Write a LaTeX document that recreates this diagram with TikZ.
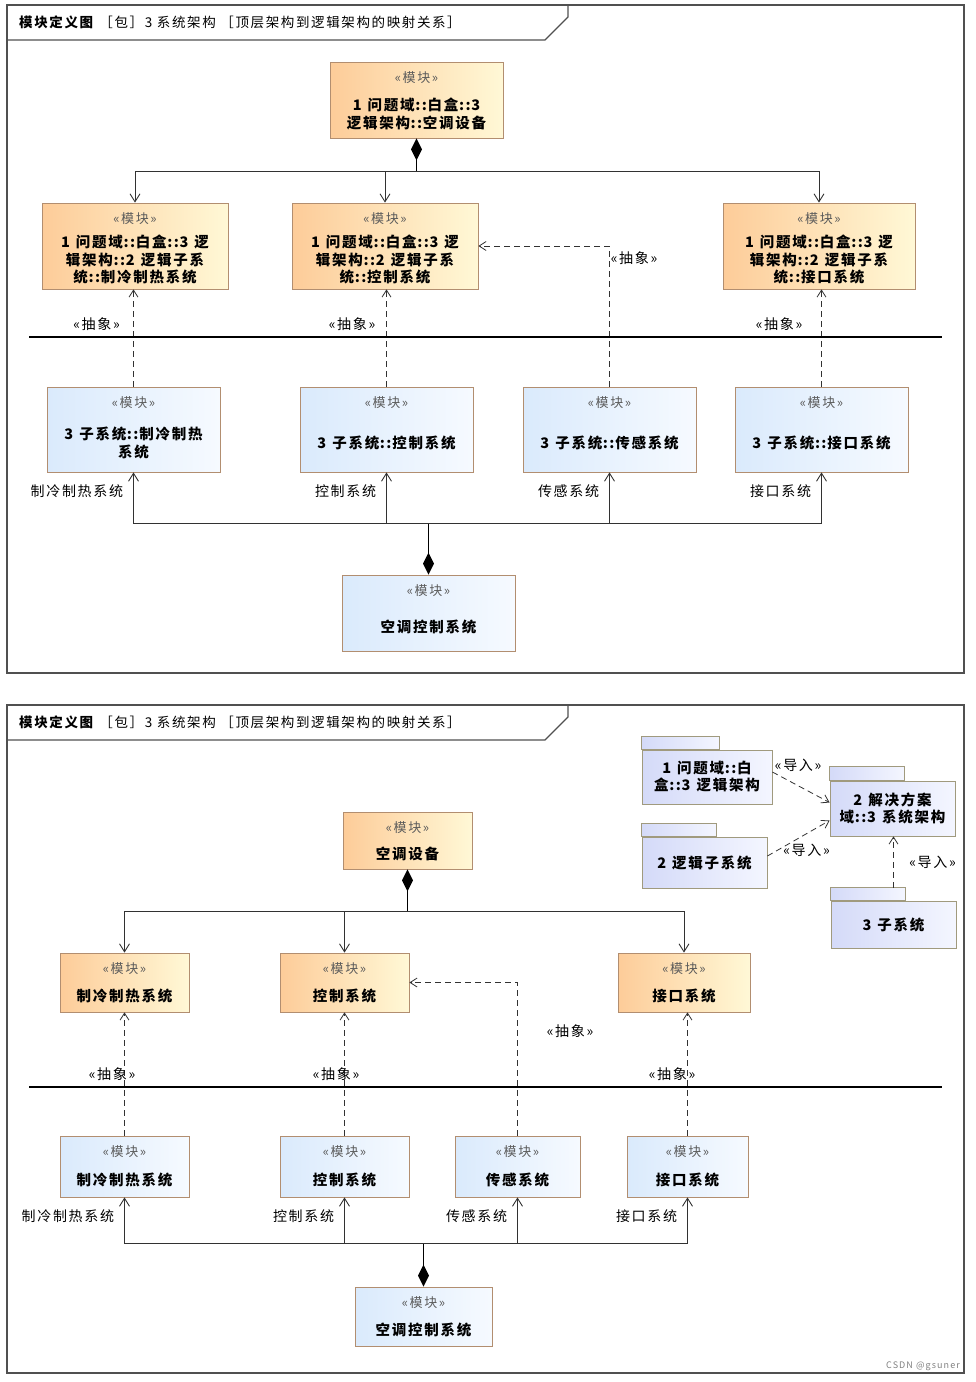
\documentclass[tikz,border=0pt]{standalone}
\usepackage{fontspec}
\setmainfont[LetterSpace=12]{Noto Sans CJK SC}
\usetikzlibrary{arrows.meta}
\definecolor{blkorange}{RGB}{253,204,153}
\definecolor{blkcream}{RGB}{255,248,214}
\definecolor{blkblue}{RGB}{218,234,252}
\definecolor{blkwhite}{RGB}{246,250,255}
\definecolor{blkborder}{RGB}{178,142,112}
\definecolor{pkgblue}{RGB}{212,218,248}
\definecolor{pkgwhite}{RGB}{244,246,255}
\definecolor{pkgborder}{RGB}{160,154,126}
\definecolor{framegrey}{RGB}{80,80,80}
\definecolor{stereogrey}{RGB}{90,90,90}
\definecolor{linegrey}{RGB}{50,50,50}
\newcommand\namefont{\fontsize{14.5}{17}\selectfont\bfseries}
\newcommand\stfont{\fontsize{13}{15}\selectfont}
\newcommand\tagfont{\fontsize{14}{16}\selectfont}
\newcommand\hdfont{\fontsize{13.5}{16}\selectfont}
% double colon and wide gap as in the tool's font
\newcommand\dc{\makebox[13pt]{\makebox[6.5pt]{:}\makebox[6.5pt]{:}}}
\newcommand\gap{\hspace{6pt}}
% block name, set lower than the centre of the block
\newcommand\bname[1]{\raisebox{-19pt}[0pt][0pt]{\begin{tabular}{@{}c@{}}#1\end{tabular}}}

\begin{document}
\begin{tikzpicture}
[
x=1pt, y=-1pt,
stereo/.style={anchor=north, yshift=-9pt, inner sep=1pt, font=\stfont, text=stereogrey},
block/.style={draw=blkborder, line width=0.8pt, inner sep=0pt, font=\namefont,
              label={[stereo]north:«模块»}},
oblock/.style={block, left color=blkorange, right color=blkcream},
bblock/.style={block, left color=blkblue, right color=blkwhite},
pkg/.style={draw=pkgborder, line width=0.8pt, left color=pkgblue, right color=pkgwhite,
            align=center, inner sep=0pt, font=\namefont},
pkgtab/.style={draw=pkgborder, line width=0.8pt, left color=pkgblue, right color=pkgwhite},
part/.style={draw=linegrey, line width=0.9pt, -{Straight Barb[length=8pt,width=10pt]}},
comp/.style={draw=black, line width=1.6pt, -{Diamond[length=22pt,width=11pt]}},
abstr/.style={draw=linegrey, line width=0.8pt, dash pattern=on 6pt off 4pt,
              -{Straight Barb[length=7pt,width=9pt]}},
stlabel/.style={font=\tagfont, inner sep=1pt},
role/.style={font=\tagfont, inner sep=2pt, anchor=east, xshift=-8pt},
diagframe/.style={draw=framegrey, line width=1.2pt},
]
\useasboundingbox (0,0) rectangle (976,1382);

%Frames
\draw[diagframe] (7,5) rectangle (964,673);
\draw[diagframe] (7,40) -- (545,40) -- (568,17) -- (568,5);
\node[anchor=west, font=\hdfont, inner sep=0pt] (hd1) at (19,22) {\textbf{模块定义图}\ ［包］3 系统架构 ［顶层架构到逻辑架构的映射关系］};
\draw[diagframe] (7,705) rectangle (964,1373);
\draw[diagframe] (7,740) -- (545,740) -- (568,717) -- (568,705);
\node[anchor=west, font=\hdfont, inner sep=0pt] (hd2) at (19,722) {\textbf{模块定义图}\ ［包］3 系统架构 ［顶层架构到逻辑架构的映射关系］};

%Place the nodes (upper diagram)
\node[oblock, minimum width=173, minimum height=76] (kt) at (416.5,100) {\bname{1\gap 问题域\dc 白盒\dc 3\\逻辑架构\dc 空调设备}};
\node[oblock, minimum width=186, minimum height=86] (lzr) at (135,246) {\bname{1\gap 问题域\dc 白盒\dc 3\gap 逻\\辑架构\dc 2\gap 逻辑子系\\统\dc 制冷制热系统}};
\node[oblock, minimum width=186, minimum height=86] (lkz) at (385,246) {\bname{1\gap 问题域\dc 白盒\dc 3\gap 逻\\辑架构\dc 2\gap 逻辑子系\\统\dc 控制系统}};
\node[oblock, minimum width=192, minimum height=86] (ljk) at (819,246) {\bname{1\gap 问题域\dc 白盒\dc 3\gap 逻\\辑架构\dc 2\gap 逻辑子系\\统\dc 接口系统}};
\node[bblock, minimum width=173, minimum height=85] (zzr) at (133.5,429.5) {\bname{3\gap 子系统\dc 制冷制热\\系统}};
\node[bblock, minimum width=173, minimum height=85] (zkz) at (386.5,429.5) {\bname{3\gap 子系统\dc 控制系统}};
\node[bblock, minimum width=173, minimum height=85] (zcg) at (609.5,429.5) {\bname{3\gap 子系统\dc 传感系统}};
\node[bblock, minimum width=173, minimum height=85] (zjk) at (821.5,429.5) {\bname{3\gap 子系统\dc 接口系统}};
\node[bblock, minimum width=173, minimum height=76] (kzx) at (428.5,613) {\bname{空调控制系统}};
\coordinate (jA) at (416.5,171);
\coordinate (jD) at (428.5,523);

%Draw the connections (upper diagram)
\draw[comp] (jA) -- (kt.south);
\draw[part] (jA) -| (lzr.north);
\draw[part] (jA) -| (lkz.north);
\draw[part] (jA) -| (ljk.north);
\draw[abstr] (zzr.north) -- node[stlabel, pos=0.64, xshift=-37] {«抽象»} (zzr.north |- lzr.south);
\draw[abstr] (zkz.north) -- node[stlabel, pos=0.64, xshift=-34.5] {«抽象»} (zkz.north |- lkz.south);
\draw[abstr] (zjk.north) -- node[stlabel, pos=0.64, xshift=-42.5] {«抽象»} (zjk.north |- ljk.south);
\draw[abstr] (zcg.north) |- node[stlabel, pos=0.457, xshift=24.5] {«抽象»} (lkz.east);
\draw[line width=2.5pt] (29,337) -- (942,337);
\draw[comp] (jD) -- (kzx.north);
\draw[part] (jD) -| node[role, pos=0.81] {制冷制热系统} (zzr.south);
\draw[part] (jD) -| node[role, pos=0.81] {控制系统} (zkz.south);
\draw[part] (jD) -| node[role, pos=0.81] {传感系统} (zcg.south);
\draw[part] (jD) -| node[role, pos=0.81] {接口系统} (zjk.south);

%Place the nodes (lower diagram)
\node[pkg, minimum width=130, minimum height=54] (pwt) at (707,777) {1\gap 问题域\dc 白\\盒\dc 3\gap 逻辑架构};
\draw[pkgtab] (pwt.north west) rectangle ++(78,-13);
\node[pkg, minimum width=125, minimum height=55] (pjf) at (892.5,808.5) {2\gap 解决方案\\域\dc 3\gap 系统架构};
\draw[pkgtab] (pjf.north west) rectangle ++(75,-14);
\node[pkg, minimum width=125, minimum height=51] (plz) at (704.5,862.5) {2\gap 逻辑子系统};
\draw[pkgtab] (plz.north west) rectangle ++(75,-13);
\node[pkg, minimum width=125, minimum height=47] (pzx) at (893.5,924.5) {3\gap 子系统};
\draw[pkgtab] (pzx.north west) rectangle ++(75,-13);

\node[oblock, minimum width=129, minimum height=57] (kt2) at (407.5,840.5) {\bname{空调设备}};
\node[oblock, minimum width=129, minimum height=59] (lzr2) at (124.5,982.5) {\bname{制冷制热系统}};
\node[oblock, minimum width=129, minimum height=59] (lkz2) at (344.5,982.5) {\bname{控制系统}};
\node[oblock, minimum width=132, minimum height=59] (ljk2) at (684,982.5) {\bname{接口系统}};
\node[bblock, minimum width=129, minimum height=61] (zzr2) at (124.5,1166.5) {\bname{制冷制热系统}};
\node[bblock, minimum width=129, minimum height=61] (zkz2) at (344.5,1166.5) {\bname{控制系统}};
\node[bblock, minimum width=125, minimum height=61] (zcg2) at (517.5,1166.5) {\bname{传感系统}};
\node[bblock, minimum width=121, minimum height=61] (zjk2) at (687.5,1166.5) {\bname{接口系统}};
\node[bblock, minimum width=137, minimum height=59] (kzx2) at (423.5,1316.5) {\bname{空调控制系统}};
\coordinate (jE) at (407.5,911);
\coordinate (jH) at (423.5,1243);

%Draw the connections (lower diagram)
\draw[abstr] ([yshift=5]pwt.east) -- node[stlabel, pos=0.45, yshift=20] {«导入»} ([yshift=6]pjf.west);
\draw[abstr] ([yshift=6.5]plz.east) -- node[stlabel, pos=0.5, xshift=8, yshift=-12] {«导入»} ([yshift=-12]pjf.west);
\draw[abstr] ([yshift=13]pzx.north) -- node[stlabel, midway, xshift=39] {«导入»} (pjf.south -| pzx.north);

\draw[comp] (jE) -- (kt2.south);
\draw[part] (jE) -| (lzr2.north);
\draw[part] (jE) -| (lkz2.north);
\draw[part] (jE) -| (ljk2.north);
\draw[abstr] (zzr2.north) -- node[stlabel, pos=0.5, xshift=-12.5] {«抽象»} (zzr2.north |- lzr2.south);
\draw[abstr] (zkz2.north) -- node[stlabel, pos=0.5, xshift=-8.5] {«抽象»} (zkz2.north |- lkz2.south);
\draw[abstr] (zjk2.north) -- node[stlabel, pos=0.5, xshift=-15.5] {«抽象»} (zjk2.north |- ljk2.south);
\draw[abstr] (zcg2.north) |- node[stlabel, pos=0.342, xshift=52.5] {«抽象»} (lkz2.east);
\draw[line width=2.5pt] (29,1087) -- (942,1087);
\draw[comp] (jH) -- (kzx2.north);
\draw[part] (jH) -| node[role, pos=0.79] {制冷制热系统} (zzr2.south);
\draw[part] (jH) -| node[role, pos=0.79] {控制系统} (zkz2.south);
\draw[part] (jH) -| node[role, pos=0.79] {传感系统} (zcg2.south);
\draw[part] (jH) -| node[role, pos=0.79] {接口系统} (zjk2.south);

\node[anchor=east, font=\fontsize{9}{11}\selectfont, text=gray, inner sep=0pt] (wm) at (960,1366) {CSDN @gsuner};
\end{tikzpicture}
\end{document}
